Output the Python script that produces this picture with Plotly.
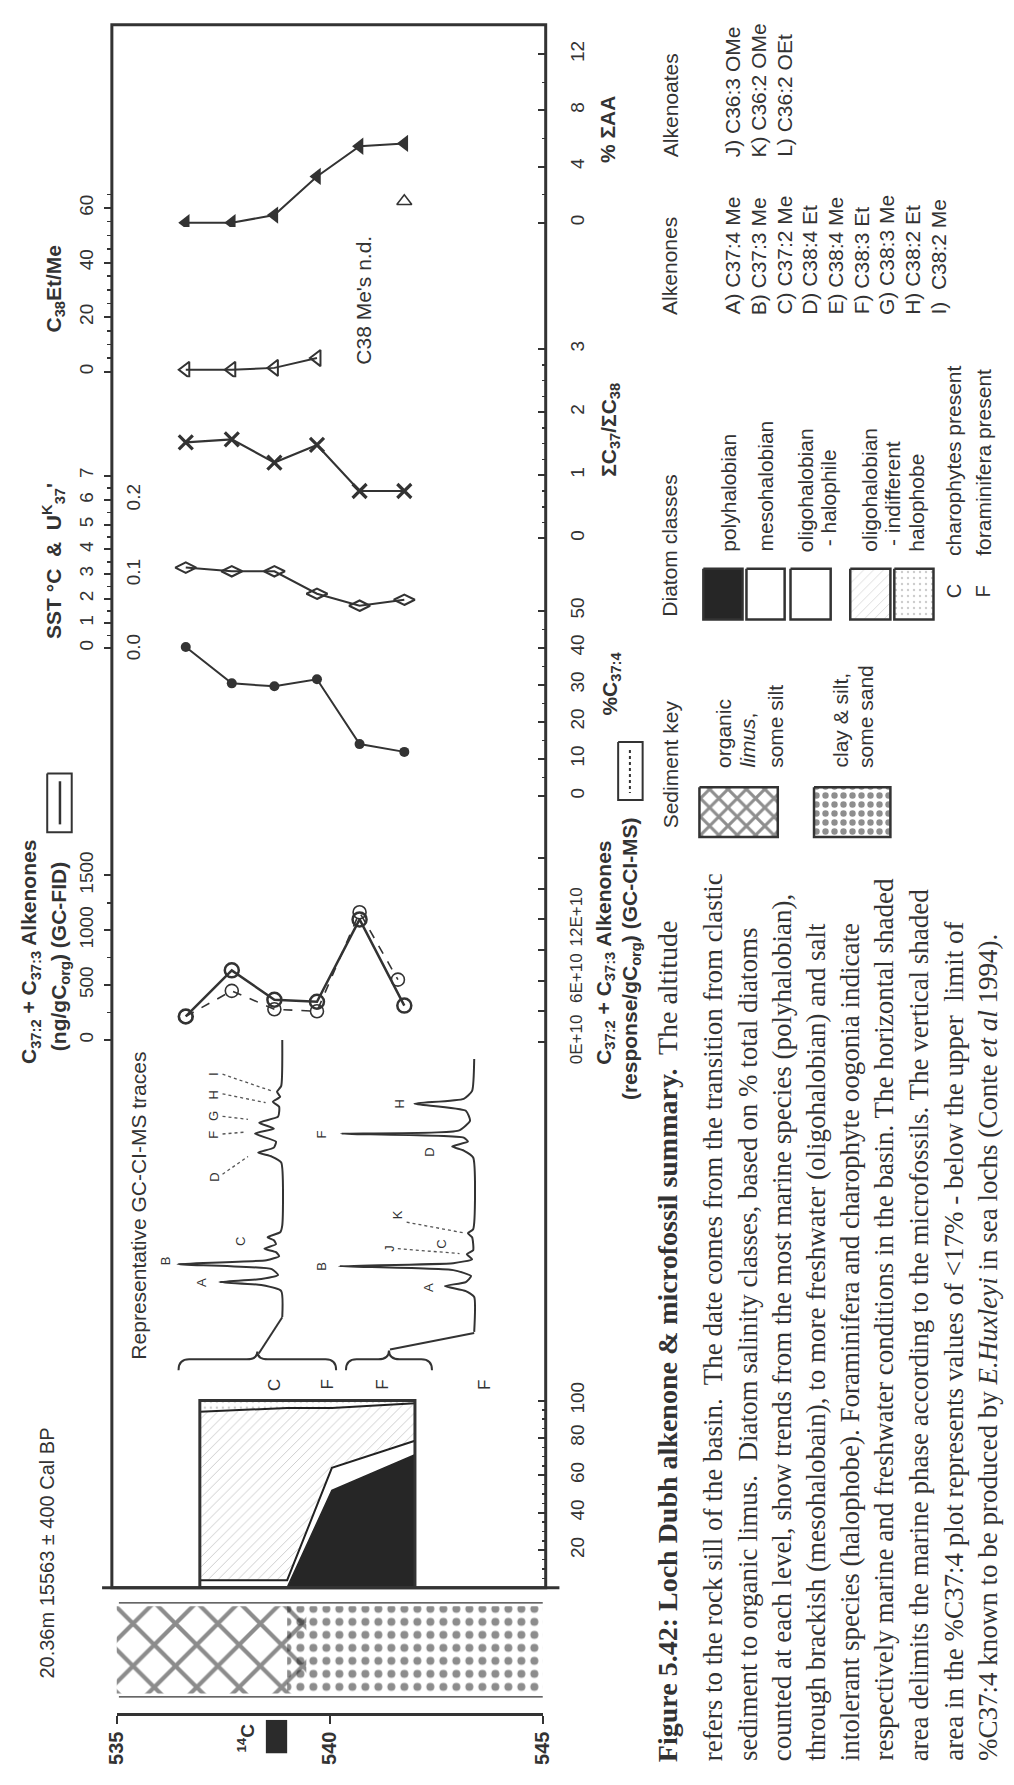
import plotly.graph_objects as go

W, H = 1014, 1785
INK = '#333333'
SANS = 'Liberation Sans, Arial, Helvetica, sans-serif'
SERIF = 'Liberation Serif, Times New Roman, serif'

# ====================== DATA ======================
depth_alk = [536.62, 537.70, 538.70, 539.70, 540.70, 541.75]
pct_sum_aa = [0.0, 0.0, 0.55, 3.3, 5.45, 5.65]
c38_depth = [536.62, 537.70, 538.70, 539.70]
c38_et_me = [0.7, 0.7, 1.4, 5.0]
c38_nd_depth = [541.75]
c38_nd_value = [62.5]
ratio_c37_c38 = [1.52, 1.57, 1.20, 1.48, 0.75, 0.75]
uk37 = [0.110, 0.105, 0.105, 0.075, 0.059, 0.067]
pct_c37_4 = [40.2, 30.4, 29.6, 31.5, 14.0, 11.9]
alk_fid = [214, 634, 366, 348, 1098, 313]
alk_cims_depth = [536.62, 537.70, 538.70, 539.70, 540.70, 541.60]
alk_cims = [2.5, 5.0, 3.2, 3.0, 12.7, 6.1]          # x 1E+10 response/gCorg

diatom_depth = [536.95, 539.00, 540.05, 542.00]
dia_poly = [0, 0, 52, 71]
dia_meso = [2, 2, 8, 5]
dia_halophile = [2, 2, 4, 2.5]
dia_indiff = [90, 92, 32, 20]
dia_halophobe = [6, 4, 4, 1.5]

sed_units = ['organic limus, some silt', 'clay & silt, some sand']
sed_top = [535.0, 539.0]
sed_base = [539.45, 545.0]

c14_depth = [538.5, 539.0]
fossil_depth = [538.72, 539.95, 541.25, 543.65]
fossil_code = ['C', 'F', 'F', 'F']

depth_ticks = [535, 540, 545]
sst_range = [0, 7]
cims_tickvals = [0, 6, 12]
cims_ticktext = ['0E+10', '6E+10', '12E+10']
uk_tickvals = [0.0, 0.1, 0.2]
uk_ticktext = ['0.0', '0.1', '0.2']
diatom_ticks = [20, 40, 60, 80, 100]

# representative GC-CI-MS traces (retention, relative signal)
chrom1_rt = [1.8, 4.4, 5.0, 5.3, 5.6, 6.0, 6.6, 7.1, 7.5, 7.9, 8.3, 8.65, 9.1, 9.5, 9.8, 10.3, 11.0,
             17.3, 17.9, 18.3, 18.8, 19.4, 20.2, 20.7, 21.3, 21.9, 22.9, 23.4, 23.9, 24.4, 25.0, 29.6]
chrom1_sig = [0, 1, 20, 60, 20, 4, 10, 100, 15, 3, 6, 17, 6, 8, 14, 2, 0,
              1, 10, 23, 8, 6, 26, 8, 22, 4, 3, 9, 2, 5, 1, 0]
chrom2_rt = [0.3, 3.8, 4.4, 4.9, 5.3, 5.9, 6.5, 6.9, 7.2, 7.6, 8.1, 8.5, 9.8, 10.2, 10.6,
             17.8, 18.5, 18.9, 19.4, 19.8, 20.2, 20.5, 21.5, 22.5, 23.2, 23.7, 24.5, 27.7]
chrom2_sig = [0, 0, 8, 28, 8, 3, 20, 129, 20, 2, 7, 1, 2, 6, 1,
              1, 10, 21, 6, 10, 127, 15, 4, 8, 57, 10, 2, 0]
chrom_depth_range = [[536.45, 540.15], [540.38, 542.40]]

alkenone_keys = ['A) C37:4 Me', 'B) C37:3 Me', 'C) C37:2 Me', 'D) C38:4 Et', 'E) C38:4 Me',
                 'F) C38:3 Et', 'G) C38:3 Me', 'H) C38:2 Et', 'I)  C38:2 Me']
alkenoate_keys = ['J) C36:3 OMe', 'K) C36:2 OMe', 'L) C36:2 OEt']

caption_lines = [
    "refers to the rock sill of the basin.  The date comes from the transition from clastic",
    "sediment to organic limus.  Diatom salinity classes, based on % total diatoms",
    "counted at each level, show trends from the most marine species (polyhalobian),",
    "through brackish (mesohalobain), to more freshwater (oligohalobian) and salt",
    "intolerant species (halophobe). Foraminifera and charophyte oogonia indicate",
    "respectively marine and freshwater conditions in the basin. The horizontal shaded",
    "area delimits the marine phase according to the microfossils. The vertical shaded",
    "area in the %C37:4 plot represents values of &lt;17% - below the upper  limit of",
    "%C37:4 known to be produced by <i>E.Huxleyi</i> in sea lochs (Conte <i>et al</i> 1994).",
]

# ====================== helpers ======================
def ydom(va, pa, vb, pb, lo, hi):
    k = (pb - pa) / (vb - va)
    plo = pa + (lo - va) * k
    phi = pa + (hi - va) * k
    return dict(domain=[1 - plo / H, 1 - phi / H], range=[lo, hi])


def xdom(va, pa, vb, pb, lo, hi):
    k = (pb - pa) / (vb - va)
    plo = pa + (lo - va) * k
    phi = pa + (hi - va) * k
    if plo <= phi:
        return dict(domain=[plo / W, phi / W], range=[lo, hi])
    return dict(domain=[phi / W, plo / W], range=[hi, lo])


TF = dict(family=SANS, size=19, color=INK)
HIDE = dict(visible=False, showgrid=False, zeroline=False)


def left_axis(spec, **kw):
    d = dict(anchor='x', side='left', showgrid=False, zeroline=False, showline=False,
             ticks='outside', ticklen=7, tickwidth=2, tickcolor=INK, tickangle=-90,
             tickfont=TF, ticklabelstandoff=3)
    d.update(spec)
    d.update(kw)
    return d


def right_axis(spec, **kw):
    d = dict(anchor='x', side='right', showgrid=False, zeroline=False, showline=False,
             ticks='inside', ticklen=8, tickwidth=2, tickcolor=INK, tickangle=-90,
             tickfont=TF, ticklabelstandoff=18)
    d.update(spec)
    d.update(kw)
    return d


def minor(dt, side='outside'):
    return dict(ticks=side, ticklen=4, tickwidth=1.5, tickcolor=INK, dtick=dt, showgrid=False)


fig = go.Figure()

# ====================== data traces ======================
fig.add_trace(go.Scatter(x=depth_alk, y=pct_sum_aa, yaxis='y', mode='lines+markers',
                         line=dict(color=INK, width=2),
                         marker=dict(symbol='triangle-left', size=15, color=INK)))
fig.add_trace(go.Scatter(x=c38_depth, y=c38_et_me, yaxis='y2', mode='lines+markers',
                         line=dict(color=INK, width=2),
                         marker=dict(symbol='triangle-left-open', size=14, color=INK,
                                     line=dict(width=2, color=INK))))
fig.add_trace(go.Scatter(x=c38_nd_depth, y=c38_nd_value, yaxis='y2', mode='markers',
                         marker=dict(symbol='triangle-up-open', size=13, color=INK,
                                     line=dict(width=1.6, color=INK))))
fig.add_trace(go.Scatter(x=depth_alk, y=ratio_c37_c38, yaxis='y3', mode='lines+markers',
                         line=dict(color=INK, width=2.2),
                         marker=dict(symbol='x-thin', size=14, color=INK,
                                     line=dict(width=3.2, color=INK))))
# SST axis carrier (invisible, so that the SST scale is drawn)
fig.add_trace(go.Scatter(x=[depth_alk[0], depth_alk[0]], y=sst_range, yaxis='y4', mode='markers',
                         marker=dict(size=1, opacity=0), hoverinfo='skip'))
fig.add_trace(go.Scatter(x=depth_alk, y=uk37, yaxis='y5', mode='lines+markers',
                         line=dict(color=INK, width=2),
                         marker=dict(symbol='diamond-wide-open', size=15, color=INK,
                                     line=dict(width=2, color=INK))))
fig.add_trace(go.Scatter(x=depth_alk, y=pct_c37_4, yaxis='y6', mode='lines+markers',
                         line=dict(color=INK, width=2),
                         marker=dict(symbol='circle', size=10, color=INK)))
fig.add_trace(go.Scatter(x=alk_cims_depth, y=alk_cims, yaxis='y8', mode='lines+markers',
                         line=dict(color=INK, width=1.6, dash='dash'),
                         marker=dict(symbol='circle-open', size=13, color=INK,
                                     line=dict(width=1.6, color=INK))))
fig.add_trace(go.Scatter(x=depth_alk, y=alk_fid, yaxis='y7', mode='lines+markers',
                         line=dict(color=INK, width=2.5),
                         marker=dict(symbol='circle-open', size=14, color=INK,
                                     line=dict(width=2.5, color=INK))))

# diatom stacked areas
dia_layers = [
    (dia_poly, '#262626', None, 1.5, '#262626'),
    (dia_meso, 'white', None, 0, 'white'),
    (dia_halophile, 'white', None, 2, '#222222'),
    (dia_indiff, 'white', dict(shape='/', size=7, solidity=0.12, fgcolor='#8a8a8a', bgcolor='white'), 2, '#222222'),
    (dia_halophobe, 'white', dict(shape='.', size=6, solidity=0.12, fgcolor='#9a9a9a', bgcolor='white'), 2, '#222222'),
]
for vals, fc, patt, lw, lc in dia_layers:
    kw = dict(x=diatom_depth, y=vals, yaxis='y9', mode='lines', stackgroup='diatom',
              fillcolor=fc, line=dict(color=lc, width=lw))
    if patt:
        kw['fillpattern'] = patt
    fig.add_trace(go.Scatter(**kw))

# sediment column (clay first, limus crosshatch on top)
sed_patterns = [
    dict(shape='x', size=30, solidity=0.26, fgcolor='#1a1a1a', bgcolor='rgba(0,0,0,0)'),
    dict(shape='.', size=13, solidity=0.3, fgcolor='#1a1a1a', bgcolor='rgba(0,0,0,0)'),
]
for i in [1, 0]:
    fig.add_trace(go.Scatter(x=[sed_top[i], sed_base[i], sed_base[i], sed_top[i], sed_top[i]],
                             y=[0.04, 0.04, 0.96, 0.96, 0.04], yaxis='y10', mode='lines',
                             fill='toself', fillcolor='rgba(0,0,0,0)', fillpattern=sed_patterns[i],
                             line=dict(width=0), name=sed_units[i]))

# chromatograms
fig.add_trace(go.Scatter(x=chrom1_sig, y=chrom1_rt, xaxis='x4', yaxis='y12', mode='lines',
                         line=dict(color=INK, width=2, shape='spline', smoothing=0.5)))
fig.add_trace(go.Scatter(x=chrom2_sig, y=chrom2_rt, xaxis='x5', yaxis='y12', mode='lines',
                         line=dict(color=INK, width=2, shape='spline', smoothing=0.5)))

# invisible trace so the depth axis is drawn
fig.add_trace(go.Scatter(x=[depth_ticks[0], depth_ticks[-1]], y=[0.5, 0.5], xaxis='x2', yaxis='y10',
                         mode='markers', marker=dict(size=1, opacity=0), hoverinfo='skip'))

# ====================== legend swatches (canvas) ======================
def canvas_rect(x0, y0, x1, y1, fc='white', patt=None, lw=2.5):
    kw = dict(x=[x0, x1, x1, x0, x0], y=[y0, y0, y1, y1, y0], xaxis='x3', yaxis='y11', mode='lines',
              fill='toself', fillcolor=fc, line=dict(color=INK, width=lw))
    if patt:
        kw['fillpattern'] = patt
    fig.add_trace(go.Scatter(**kw))


canvas_rect(707, 563, 747, 615, fc='#262626')
canvas_rect(751, 563, 790, 615)
canvas_rect(796, 563, 837, 615)
canvas_rect(857, 563, 898, 615, patt=dict(shape='/', size=7, solidity=0.1, fgcolor='#9a9a9a', bgcolor='white'))
canvas_rect(902, 563, 942, 615, patt=dict(shape='.', size=6, solidity=0.12, fgcolor='#9a9a9a', bgcolor='white'))
canvas_rect(703, 786, 783, 837, patt=dict(shape='x', size=13, solidity=0.42, fgcolor='#1e1e1e', bgcolor='white'))
canvas_rect(820, 786, 898, 837, patt=dict(shape='.', size=9, solidity=0.4, fgcolor='#1e1e1e', bgcolor='white'))
canvas_rect(37, 772, 62, 832, lw=2)
canvas_rect(620, 740, 645, 799, lw=2)

# ====================== axes ======================
lay = dict(
    width=W, height=H, margin=dict(l=0, r=0, t=0, b=0), paper_bgcolor='white',
    plot_bgcolor='rgba(0,0,0,0)', showlegend=False, hovermode=False,
    xaxis=dict(anchor='y', **xdom(535, 108, 545, 543, 534.885, 545.069), **HIDE),
    xaxis2=dict(anchor='free', position=1 - 1732 / H, domain=[108 / W, 543 / W], range=[535, 545],
                showline=True, linewidth=2.5, linecolor=INK, ticks='outside', ticklen=8, tickwidth=2.5,
                tickcolor=INK, tickvals=depth_ticks, tickangle=-90, showgrid=False, zeroline=False,
                tickfont=dict(family=SANS, size=20, color=INK, weight='bold')),
    xaxis3=dict(anchor='y11', domain=[0, 1], range=[0, W], **HIDE),
    xaxis4=dict(anchor='y12', **xdom(0, 277, 100, 170, -5, 140), **HIDE),
    xaxis5=dict(anchor='y12', **xdom(0, 473, 100, 366, -5, 140), **HIDE),
    yaxis=right_axis(ydom(0, 210, 12, 38, -0.3, 13.6), dtick=4, tick0=0, minor=minor(2, 'inside')),
    yaxis2=left_axis(ydom(0, 362, 60, 195, -2, 68), dtick=20, tick0=0, minor=minor(5)),
    yaxis3=right_axis(ydom(0, 532, 3, 339, -0.08, 3.25), dtick=1, tick0=0, minor=minor(0.25, 'inside')),
    yaxis4=left_axis(ydom(0, 644, 7, 468, -0.1, 7.2), dtick=1, tick0=0, minor=minor(0.5)),
    yaxis5=left_axis(ydom(0, 646, 0.2, 493, -0.035, 0.26), tickvals=uk_tickvals, ticktext=uk_ticktext,
                     ticks='', ticklabelposition='inside', ticklabelstandoff=2),
    yaxis6=right_axis(ydom(0, 795, 50, 606, -1, 55), dtick=10, tick0=0, minor=minor(5, 'inside')),
    yaxis7=left_axis(ydom(0, 1044, 1500, 876, -20, 1620), dtick=500, tick0=0, minor=minor(250)),
    yaxis8=right_axis(ydom(0, 1046, 12, 921, -0.3, 18.3), tickvals=cims_tickvals, ticktext=cims_ticktext,
                      tickfont=dict(family=SANS, size=17, color=INK),
                      minor=dict(ticks='inside', ticklen=8, tickwidth=2, tickcolor=INK, dtick=3, showgrid=False)),
    yaxis9=right_axis(ydom(0, 1603, 100, 1412, 0, 101), tickvals=diatom_ticks,
                      minor=minor(5, 'inside')),
    yaxis10=dict(anchor='x', domain=[1 - 1715 / H, 1 - 1618 / H], range=[0, 1], **HIDE),
    yaxis11=dict(anchor='x3', domain=[0, 1], range=[H, 0], **HIDE),
    yaxis12=dict(anchor='x4', **ydom(0, 1345, 30, 1040, 0, 30), **HIDE),
)
fig.update_layout(**lay)

# ====================== shapes ======================
shapes = []
shapes.append(dict(type='rect', xref='paper', yref='paper', x0=103 / W, x1=546 / W,
                   y0=1 - 1603 / H, y1=1 - 8 / H, line=dict(color=INK, width=3)))
shapes.append(dict(type='line', xref='paper', yref='paper', x0=93 / W, x1=560 / W,
                   y0=1 - 1603 / H, y1=1 - 1603 / H, line=dict(color=INK, width=3)))
shapes.append(dict(type='rect', xref='x', yref='y9', x0=diatom_depth[0], x1=diatom_depth[-1],
                   y0=0, y1=100, line=dict(color=INK, width=3)))
for yy in (0, 1):
    shapes.append(dict(type='line', xref='x', yref='y10', x0=sed_top[0] + 0.05, x1=sed_base[-1],
                       y0=yy, y1=yy, line=dict(color=INK, width=2.5)))
shapes.append(dict(type='rect', xref='x', yref='y11', x0=c14_depth[0], x1=c14_depth[1],
                   y0=1738, y1=1772, fillcolor='#2b2b2b', line=dict(width=0)))
for (d0, d1), ytip in zip(chrom_depth_range, [1362, 1361]):
    dm = (d0 + d1) / 2
    e = 0.25
    path = (f'M {d0},1381 Q {d0},1370 {d0 + e},1370 L {dm - e},1370 Q {dm},1370 {dm},{ytip} '
            f'Q {dm},1370 {dm + e},1370 L {d1 - e},1370 Q {d1},1370 {d1},1381')
    shapes.append(dict(type='path', xref='x', yref='y11', path=path, line=dict(color=INK, width=2)))
shapes.append(dict(type='line', xref='x3', yref='y11', x0=277, y0=1327, x1=253, y1=1364,
                   line=dict(color=INK, width=2)))
shapes.append(dict(type='line', xref='x3', yref='y11', x0=473, y0=1343, x1=387, y1=1360,
                   line=dict(color=INK, width=2)))
for x0, y0, x1, y1 in [(216, 1181, 242, 1163), (216, 1140, 240, 1138), (216, 1122, 242, 1125),
                       (216, 1099, 260, 1108), (216, 1079, 266, 1096),
                       (395, 1257, 458, 1262), (404, 1230, 463, 1241)]:
    shapes.append(dict(type='line', xref='x3', yref='y11', x0=x0, y0=y0, x1=x1, y1=y1,
                       line=dict(color='#555555', width=1.3, dash='dot')))
shapes.append(dict(type='line', xref='x3', yref='y11', x0=50, y0=780, x1=50, y1=824,
                   line=dict(color=INK, width=2.5)))
shapes.append(dict(type='line', xref='x3', yref='y11', x0=632, y0=748, x1=632, y1=792,
                   line=dict(color=INK, width=2, dash='dot')))
fig.update_layout(shapes=shapes)

# ====================== text ======================
def txt(x, y, s, size=21, bold=False, ya='middle', xa='center', family=SANS, color=INK, xref='x3'):
    fig.add_annotation(x=x, y=y, xref=xref, yref='y11', text=s, textangle=-90, showarrow=False,
                       xanchor=xa, yanchor=ya,
                       font=dict(family=family, size=size, color=color,
                                 weight='bold' if bold else 'normal'))


txt(45, 277, 'C<sub>38</sub>Et/Me', bold=True)
txt(44, 555, 'SST °C  &amp;  U<sup>K</sup><sub>37</sub>\'', bold=True)
txt(20, 1071, 'C<sub>37:2</sub> + C<sub>37:3</sub> Alkenones', bold=True, ya='bottom')
txt(50, 1057, '(ng/gC<sub>org</sub>) (GC-FID)', bold=True, ya='bottom')
txt(609, 115, '% ΣAA', bold=True)
txt(611, 421, 'ΣC<sub>37</sub>/ΣC<sub>38</sub>', bold=True)
txt(613, 680, '%C<sub>37:4</sub>', bold=True)
txt(607, 1071, 'C<sub>37:2</sub> + C<sub>37:3</sub> Alkenones', bold=True, ya='bottom')
txt(633, 1107, '(response/gC<sub>org</sub>) (GC-CI-MS)', bold=True, ya='bottom')
txt(360, 289, "C38 Me's n.d.")
txt(130, 1372, 'Representative GC-CI-MS traces', ya='bottom')
txt(37, 1568, '20.36m 15563 ± 400 Cal BP', size=20)
txt(240, 1757, '<sup>14</sup>C', size=19, bold=True)
for d, c in zip(fossil_depth, fossil_code):
    txt(d, 1396, c, size=17, xref='x')
for x, y, s in [(158, 1269, 'B'), (195, 1291, 'A'), (235, 1250, 'C'), (207, 1184, 'D'),
                (207, 1141, 'F'), (207, 1122, 'G'), (207, 1100, 'H'), (207, 1079, 'I'),
                (317, 1140, 'F'), (317, 1275, 'B'), (427, 1297, 'A'), (387, 1256, 'J'),
                (440, 1252, 'C'), (395, 1222, 'K'), (397, 1109, 'H'), (427, 1159, 'D')]:
    txt(x, y, s, size=13)

txt(673, 145, 'Alkenoates', ya='bottom')
txt(673, 306, 'Alkenones', ya='bottom')
for i, s in enumerate(alkenoate_keys):
    txt(737 + 26.3 * i, 145, s, ya='bottom')
for i, s in enumerate(alkenone_keys):
    txt(737 + 26.3 * i, 306, s, ya='bottom')
txt(673, 614, 'Diatom classes', ya='bottom')
for x, s in [(733, 'polyhalobian'), (770, 'mesohalobian'), (812, 'oligohalobian'), (835, ' - halophile'),
             (877, 'oligohalobian'), (900, ' - indifferent'), (925, 'halophobe')]:
    txt(x, 548, s, ya='bottom')
txt(963, 586, 'C', size=20)
txt(993, 586, 'F', size=20)
txt(963, 552, 'charophytes present', ya='bottom')
txt(993, 552, 'foraminifera present', ya='bottom')
txt(673, 830, 'Sediment key', ya='bottom')
txt(727, 768, 'organic', ya='bottom')
txt(752, 768, '<i>limus</i>,', ya='bottom')
txt(780, 768, 'some silt', ya='bottom')
txt(847, 768, 'clay &amp; silt,', ya='bottom')
txt(872, 768, 'some sand', ya='bottom')

txt(670, 1783, '<b>Figure 5.42: Loch Dubh alkenone &amp; microfossil summary.</b>  The altitude',
    size=28, ya='bottom', family=SERIF)
for i, line in enumerate(caption_lines):
    txt(717 + 35 * i, 1782, line, size=27, ya='bottom', family=SERIF)

fig.write_html('out.html', config={'displayModeBar': False, 'staticPlot': True},
               post_script="document.body.style.margin='0';"
                           "document.documentElement.style.overflow='hidden';")
